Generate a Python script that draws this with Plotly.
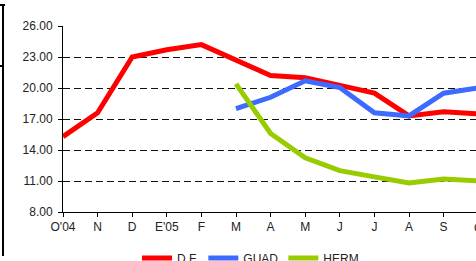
import plotly.graph_objects as go

months = ["O'04", "N", "D", "E'05", "F", "M", "A", "M", "J", "J", "A", "S", "O"]
df_vals = [15.3, 17.6, 23.0, 23.7, 24.2, 22.7, 21.2, 21.0, 20.25, 19.5, 17.3, 17.7, 17.5]
guad_vals = [None, None, None, None, None, 18.0, 19.1, 20.7, 20.05, 17.6, 17.3, 19.5, 20.0]
herm_vals = [None, None, None, None, None, 20.4, 15.6, 13.25, 12.0, 11.4, 10.8, 11.2, 11.0]
y_ticks = [8, 11, 14, 17, 20, 23, 26]

x_idx = list(range(len(months)))

W, H = 476, 261
L, R, T, B = 63, 0, 26, 49
pw = W - L - R
ph = H - T - B

fig = go.Figure()
for name, vals, col in [("D.F.", df_vals, "#FF0000"),
                        ("GUAD", guad_vals, "#3D6BFF"),
                        ("HERM", herm_vals, "#99CC00")]:
    fig.add_trace(go.Scatter(x=x_idx, y=vals, name=name, mode="lines",
                             line=dict(color=col, width=5), connectgaps=False,
                             cliponaxis=True))

font = dict(family="Liberation Sans, Arial, sans-serif", size=12, color="#222222")

fig.update_layout(
    width=W, height=H,
    margin=dict(l=L, r=R, t=T, b=B),
    paper_bgcolor="white", plot_bgcolor="white",
    font=font,
    showlegend=True,
    legend=dict(orientation="h", xref="container", yref="container",
                x=137 / W, y=3 / H, xanchor="left", yanchor="middle",
                font=font, itemwidth=30, tracegroupgap=0,
                bgcolor="rgba(0,0,0,0)"),
    xaxis=dict(range=[0, (W - L) / 34.6], tickmode="array", tickvals=x_idx,
               ticktext=months, showgrid=False, zeroline=False,
               showline=True, linecolor="#000000", linewidth=1,
               ticks="outside", ticklen=4, tickcolor="#000000",
               tickfont=font),
    yaxis=dict(range=[8, 26], tickmode="array", tickvals=y_ticks,
               ticktext=[f"{v:.2f}" for v in y_ticks],
               showgrid=True, gridcolor="#111111", gridwidth=1,
               griddash="7px,4px", zeroline=False,
               showline=True, linecolor="#000000", linewidth=1,
               ticks="outside", ticklen=4, tickcolor="#000000",
               tickfont=font, ticklabelstandoff=3),
)

def px_x(p):
    return (p - L) / pw

def px_y(p):
    return (T + ph - p) / ph

# partially visible last category label at the right edge
fig.add_annotation(x=px_x(478), y=px_y(228), xref="paper", yref="paper",
                   text=months[-1], showarrow=False, font=font,
                   xanchor="center", yanchor="middle")

# outer frame fragments at the left edge
fig.add_shape(type="line", xref="paper", yref="paper",
              x0=px_x(3), x1=px_x(3), y0=px_y(5), y1=px_y(256),
              line=dict(color="#000000", width=2))
fig.add_shape(type="line", xref="paper", yref="paper",
              x0=px_x(0), x1=px_x(5), y0=px_y(5), y1=px_y(5),
              line=dict(color="#000000", width=2))
fig.add_shape(type="line", xref="paper", yref="paper",
              x0=px_x(0), x1=px_x(4), y0=px_y(66), y1=px_y(66),
              line=dict(color="#000000", width=2))

fig.write_html("out.html",
               config={"displayModeBar": False},
               post_script="document.body.style.margin='0';document.body.style.overflow='hidden';")
